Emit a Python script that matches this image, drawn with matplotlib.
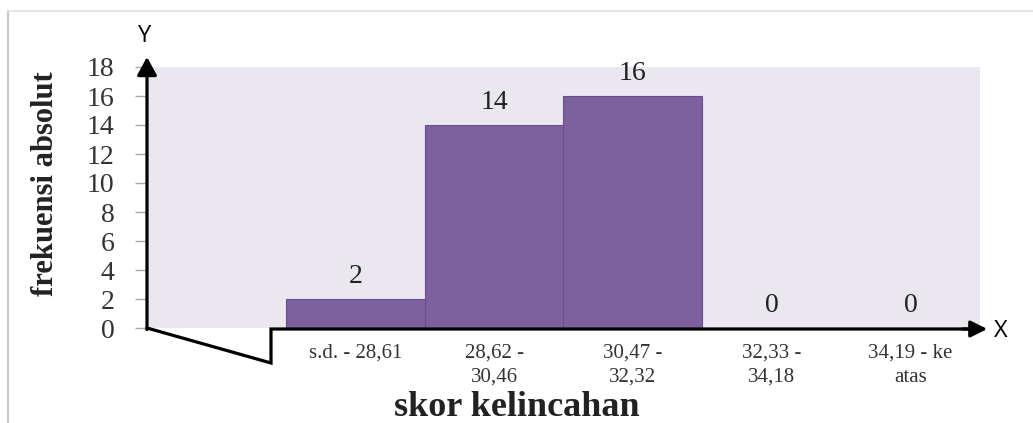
import matplotlib
matplotlib.use("Agg")
import matplotlib.pyplot as plt
from matplotlib.lines import Line2D
from matplotlib.patches import FancyArrowPatch

categories = ["s.d. - 28,61", "28,62 -\n30,46", "30,47 -\n32,32", "32,33 -\n34,18", "34,19 - ke\natas"]
values = [2, 14, 16, 0, 0]
yticks = [0, 2, 4, 6, 8, 10, 12, 14, 16, 18]
xlabel_text = "skor kelincahan"
ylabel_text = "frekuensi absolut"

SERIF = "Liberation Serif"
BAR = "#7E5F9F"
BG = "#EAE8EE"

W, H = 1033, 423
fig = plt.figure(figsize=(W / 100, H / 100), dpi=100)
fig.patch.set_facecolor("white")

L, R, B, T = 147, 980, 328, 67
ax = fig.add_axes([L / W, 1 - B / H, (R - L) / W, (B - T) / H])
ax.set_facecolor(BG)
for s in ax.spines.values():
    s.set_visible(False)

pos = list(range(1, len(categories) + 1))
ax.bar(pos, values, width=1.0, color=BAR, edgecolor="#6B4E8C", linewidth=0.8, zorder=3)
ax.set_xlim(-0.5, len(categories) + 0.5)
ax.set_ylim(0, 18)

for p, v in zip(pos, values):
    ax.annotate(str(v), (p, v), xytext=(0, 16), textcoords="offset points",
                ha="center", va="center", fontsize=20, family=SERIF, color="#222222",
                annotation_clip=False)

ax.set_yticks(yticks)
ax.set_yticklabels([str(t) for t in yticks], family=SERIF, fontsize=20, color="#333333")
ax.tick_params(axis="y", length=8.5, width=1, color="#A8A8A8", pad=15)
ax.set_xticks(pos)
ax.set_xticklabels(categories, family=SERIF, fontsize=15, color="#333333", linespacing=1.4)
ax.tick_params(axis="x", length=0, pad=11)

ax.set_xlabel(xlabel_text, family=SERIF, fontsize=26, fontweight="bold", color="#222222", va="baseline")
ax.xaxis.set_label_coords((517 - L) / (R - L), -(416 - B) / (B - T))
ax.set_ylabel(ylabel_text, family=SERIF, fontsize=22, fontweight="bold", color="#222222", va="center")
ax.yaxis.set_label_coords((46 - L) / (R - L), (B - 184) / (B - T))

tr = ax.transAxes
def fx(px):
    return (px - L) / (R - L)
def fy(py):
    return (B - py) / (B - T)

# zigzag break line and x axis
ax.add_line(Line2D([fx(147), fx(271), fx(271), fx(975)], [fy(328), fy(363), fy(329), fy(329)],
                   transform=tr, color="black", linewidth=2.3, clip_on=False, zorder=5,
                   solid_joinstyle="miter"))
ax.add_patch(FancyArrowPatch((fx(960), fy(329)), (fx(990), fy(329)), transform=tr,
                             arrowstyle="-|>,head_length=10,head_width=5", mutation_scale=1,
                             color="black", linewidth=2.3, clip_on=False, zorder=5))
# y axis with arrow
ax.add_patch(FancyArrowPatch((fx(147), fy(329.5)), (fx(147), fy(57)), transform=tr,
                             arrowstyle="-|>,head_length=11,head_width=6", mutation_scale=1,
                             color="black", linewidth=2.3, clip_on=False, zorder=5,
                             shrinkA=0, shrinkB=0))

fig.text(145 / W, 1 - 36 / H, "Y", family="Open Sans", fontsize=17, ha="center", va="center", color="black")
fig.text(1001 / W, 1 - 331 / H, "X", family="Open Sans", fontsize=17, ha="center", va="center", color="black")

fig.add_artist(Line2D([8 / W, 8 / W], [0, 1 - 11 / H], transform=fig.transFigure, color="#C8C8C8", linewidth=1.5))
fig.add_artist(Line2D([8 / W, 1], [1 - 11 / H, 1 - 11 / H], transform=fig.transFigure, color="#E0E0E0", linewidth=1.2))

fig.savefig("out.png", dpi=100, facecolor="white")
